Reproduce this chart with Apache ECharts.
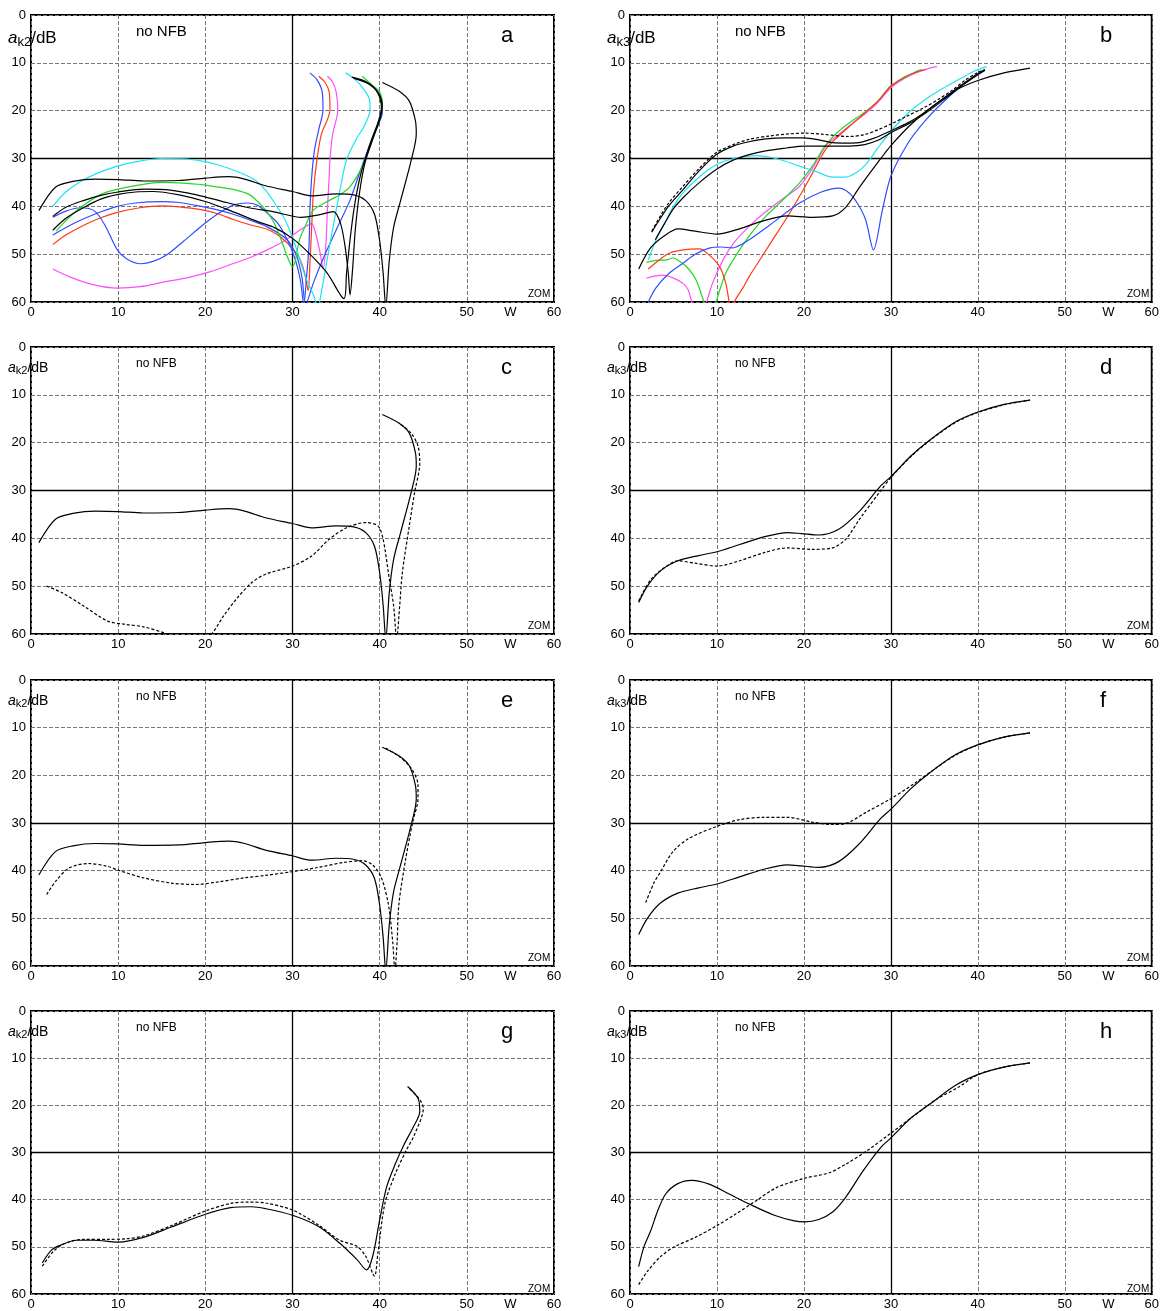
<!DOCTYPE html>
<html><head><meta charset="utf-8">
<script src="https://cdn.jsdelivr.net/npm/echarts@6/dist/echarts.min.js"></script>
<style>html,body{margin:0;padding:0;background:#fff}#c{width:1162px;height:1311px}</style>
</head><body><div id="c"></div>
<script>
// ---- tick labels ----
const xTicks = [0,10,20,30,40,50,55,60];
const xTickText = ['0','10','20','30','40','50','W','60'];
const yTicks = [0,10,20,30,40,50,60];

// ---- k2 curves (x = output power W, y = attenuation dB) ----
const k2Main = [[0.9,40.9],[2.8,36],[4.8,34.8],[7.4,34.3],[10,34.4],[12.9,34.7],[16.9,34.6],[20,34.1],[22.7,33.8],[24.5,34.3],[26.9,35.7],[30,36.9],[32.2,37.8],[35,37.4],[37,37.6],[38.4,38.8],[39.4,41.6],[40,47.2],[40.4,54],[40.7,61],[41.1,51.4],[41.6,44.4],[42.4,38.8],[43.6,30.5],[44.2,24.9],[44.1,22.1],[43.4,18],[42.2,15.9],[40.3,14.1]];
const k2Black2 = [[2.5,42.1],[4,40.2],[6,38.8],[8,37.7],[10,37],[13,36.4],[16,36.6],[19,37.6],[22,39],[25,40.3],[28,41.2],[31,42.3],[33,41.8],[34.7,41.1],[35.5,43.5],[36,48],[36.4,54],[36.6,58.5],[36.9,53],[37.2,45],[37.7,37],[38.3,31],[39.2,26],[40,22],[40.3,19],[39.9,16.5],[38.8,14.5],[37,13.2]];
const k2Black3 = [[2.5,45],[4,42.5],[6,40.3],[8,38.5],[10,37.5],[12,37],[14,36.9],[17,37.6],[20,39],[23,41],[26,43.2],[28,44.5],[30,46.7],[32,50],[34,54],[35.9,59.3],[36.2,54],[36.6,47],[37.1,40],[37.8,33.5],[38.8,27.5],[39.8,22.5],[40.2,19.5],[39.7,16],[38.5,14],[36.8,13]];
const k2BlueA = [[2.5,42.3],[4,41],[5.7,40.3],[7.3,41],[8.5,44],[9.9,49.1],[11,51],[12.6,52],[14,51.5],[15.6,50.1],[17.5,47.3],[19.5,44.2],[21.5,41.5],[23.3,39.7],[24.8,39.3],[26,39.8],[27.1,41.4],[28.3,43.5],[29.4,47],[30.3,51],[30.9,55.4],[31.3,60.5],[31.6,55],[31.9,48],[32,40.8],[32.2,34],[32.5,28.5],[33,24],[33.5,19.8],[33.4,16],[32.8,13.5],[32,12.1]];
const k2BlueB = [[2.5,46],[5,43.5],[7.5,41.5],[9.9,40],[12,39.3],[14.9,39],[17,39.2],[19.5,40],[21.5,40.8],[23.3,41.7],[25,42.8],[27.1,44.3],[29.4,47],[30.5,50.5],[31.1,55],[31.5,60.5],[32.4,56],[33.5,51],[35,45],[36.6,38.7],[37.6,33.5],[38.5,28.9],[39.5,24],[40.3,20.5],[40.2,17.5],[39.3,15],[37.8,13.5]];
const k2Red = [[2.5,48],[4,46],[6,44],[8,42.4],[10,41.2],[12.5,40.3],[14.9,39.9],[17,40.1],[19.5,40.7],[21.5,41.6],[23.3,42.8],[25,43.8],[27.1,44.8],[28.5,46.2],[29.4,47.7],[30.3,49.5],[30.9,51.2],[31.4,54],[31.8,57.6],[32,52],[32.2,44.3],[32.4,37],[32.8,30.3],[33.3,25],[34.3,19.8],[34.2,16],[33.7,14],[33,12.8]];
const k2Pink = [[2.5,53.1],[4.5,54.8],[7,56.3],[9.9,57.1],[12.5,56.8],[15.6,55.7],[18,54.9],[20.5,53.7],[23.3,51.9],[25,50.8],[27.1,49.1],[29,47.3],[30.9,44.9],[31.7,44],[32.2,43.6],[32.7,46],[33.2,50],[33.5,53],[33.8,49],[34,40.8],[34.2,34],[34.3,30.3],[34.6,25],[35.2,19.8],[35,16],[34.6,14],[34,12.8]];
const k2Green = [[2.9,45.2],[4,43],[5.5,40.5],[8,37.5],[10,36.4],[12.5,35.5],[14.9,35],[17,35.1],[19.8,35.5],[21.5,36],[23.3,36.5],[25,37.5],[26,39],[27,41],[27.9,43.5],[28.7,47],[29.4,50.5],[30,52.6],[30.3,51.5],[30.8,47],[31.5,44],[32.4,40.8],[34.3,38.7],[35.5,37.5],[36.6,35.9],[38,31.7],[39,27],[39.7,23.3],[40.3,18.4],[40,16],[39.3,14.9],[38,12.8]];
const k2Cyan = [[2.5,40],[4,37],[6.1,34.4],[8,32.8],[9.9,31.6],[12,30.7],[14.9,30],[17.9,30.1],[19.5,30.5],[21.4,31.3],[23.5,32.6],[25.6,34.4],[27,36.8],[28.2,40],[29.2,43],[30.1,47],[31.5,54.8],[32.4,58.5],[32.9,61],[33.4,57],[34.3,47.8],[35.3,38],[36.2,30.3],[37.3,26],[38.2,23.3],[38.9,19.8],[38.8,17.5],[38.2,15.6],[37.2,13.5],[36.1,12.1]];
const k2cDashed = [[1.8,50],[3.6,51.4],[6,54.1],[8.8,57.3],[10.9,58],[12.9,58.5],[15.3,59.8],[16.5,61],[19,62],[20.7,60],[22.1,56.2],[23.7,52.4],[25.3,49.3],[26.9,47.5],[30,45.8],[32.2,43.7],[34.2,40.2],[36.2,37.8],[38.4,36.7],[39.8,37.4],[40.4,40.2],[41,47.2],[41.6,54.1],[41.95,61],[42.3,54],[42.6,47.2],[43.4,37.4],[44,30.5],[44.6,24.2],[44.4,20.7],[43.6,18],[42.2,15.9]];
const k2eDashed = [[1.8,45],[2.8,42.3],[4.4,39.4],[6.6,38.5],[8.8,39.1],[10,39.9],[12.9,41.5],[16.1,42.6],[18.9,42.9],[21.3,42.4],[24.5,41.5],[26.9,41],[30,40.2],[33,39.3],[35.8,38.3],[38,37.9],[39.2,38.8],[40.2,41.5],[41,47.1],[41.5,55],[41.75,61],[42,55],[42.2,47.1],[43,37.4],[43.8,29.7],[44.4,24.8],[44.4,22],[43.6,18.5],[42.2,16],[40.6,14.2]];
const k2gSolid = [[1.3,53.4],[2.4,50.6],[3.6,49.5],[5.2,48.6],[7.2,48.6],[10,49],[12.9,48],[16.1,45.8],[20,43.1],[22.9,41.7],[25.3,41.5],[26.9,41.9],[30,43.3],[33,45.7],[35.4,49.2],[37.4,52.7],[38.5,54.9],[39.2,52],[40,44.3],[40.8,37.3],[41.8,32.4],[42.8,28.3],[43.8,24.8],[44.6,21.3],[44.4,18.5],[43.2,16]];
const k2gDashed = [[1.3,54.1],[2.6,50.9],[4,49.2],[6,48.4],[8.8,48.4],[10.9,48.3],[12.9,47.7],[16.1,45.5],[20,42.4],[22.9,40.8],[24.9,40.5],[26.9,40.7],[30,42.2],[33,45.4],[35.4,48.6],[37.4,49.9],[38.4,52],[39.4,56.2],[39.8,51.3],[40.6,40.8],[41.8,34.5],[43,29.7],[44,26.2],[45,20.6],[44.6,18.8],[43.4,16.4]];

// ---- k3 curves ----
const k3dSolid = [[1,53.4],[2,50],[3.5,46.8],[5.5,44.7],[7.9,43.6],[10,42.8],[12.6,41.3],[15.4,39.7],[18.1,38.8],[19.7,39],[21.7,39.3],[24,38.1],[26.4,34.3],[28.8,29.1],[30,27.1],[32.3,22.8],[34.3,19.7],[37.4,15.7],[40,13.6],[43,12],[46,11.1]];
const k3dDashed = [[1,53.1],[2.4,48.6],[4,46.1],[5.5,44.7],[7.5,45.2],[10,45.8],[12.6,44.7],[15.4,43],[18.1,42],[20.9,42.3],[23.3,42],[24.8,40.2],[26.4,36],[28.8,30.1],[30,27.3],[32.3,22.9],[34.3,19.8],[37.4,15.8],[40,13.7],[43,12.1],[46,11.1]];
const k3fDashed = [[1.8,46.7],[2.8,42.4],[3.5,40.3],[4.9,36.1],[6.7,33.3],[10,30.7],[12.6,29.3],[15.4,28.8],[18.1,28.8],[20.9,29.8],[23.3,30.3],[24.8,30.1],[27.2,27.7],[30,24.9],[32.7,21.7],[35.1,18.6],[37.4,15.8],[40,13.6],[43,12],[46,11.1]];
const k3hSolid = [[1,54.2],[1.6,50],[2.4,46.5],[3.2,42.3],[4.1,38.8],[5.5,36.6],[7.1,35.9],[9.1,36.7],[11.4,38.8],[13.8,41],[16.6,43.3],[18.9,44.5],[20.1,44.7],[21.7,44.2],[23.3,42.6],[24.8,39.5],[26.8,33.9],[28.8,29],[30,26.9],[32.3,22.7],[34.3,20],[37.4,15.8],[40,13.5],[43,11.9],[46,11]];
const k3hDashed = [[1,58],[2,55.2],[3.5,52.1],[5.1,50],[7.5,48],[10,45.5],[12.2,43],[14.6,40.1],[16.9,37.4],[20,35.5],[22.9,34.3],[24.8,32.5],[27.2,29.7],[30,25.9],[32.3,22.7],[35.1,18.9],[37.8,16.1],[40,13.5],[43,11.9],[46,11]];
const k3bDashed = [[2.5,45.2],[3.5,42],[4.5,39.2],[6.1,35.8],[8,32],[9.9,28.8],[12,27],[13.7,26],[16,25.3],[18,24.9],[20,24.7],[22,24.9],[25.2,25.4],[27,25],[28.5,24],[30,22.8],[32,21],[34,19.2],[35.5,17.6],[37,15.8],[38.5,13.7],[40,12],[40.8,11.4]];
const k3bBlack1 = [[2.5,45.4],[3.5,42.5],[4.5,39.8],[6.1,36.5],[8,32.5],[9.9,29.2],[12,27.3],[13.7,26.5],[15.6,25.9],[18,25.7],[20,25.7],[22,26.2],[23.3,26.7],[25,26.8],[26.3,26.7],[28,25.8],[30,24.2],[32,22.5],[34,20.2],[36,17.5],[38,14.8],[40,12.3],[40.8,11.5]];
const k3bBlack2 = [[2.9,47],[4,43.5],[5,40.5],[6.1,38.2],[8,35],[10,32.2],[11.8,30.4],[13.7,29.2],[15.6,28.4],[18,27.8],[20,27.4],[22.5,27.4],[25.2,27.4],[27,27.1],[28.5,26.2],[30,24.6],[32,22.8],[34,20.5],[36,17.8],[38,15],[40,12.5],[40.8,11.6]];
const k3bCyan = [[2.1,51.2],[3,47],[4,43.5],[5,40],[6.1,37.2],[8,33.8],[9.9,31.3],[12,30],[14.5,29.4],[17,30.1],[19.5,31.6],[21.5,32.8],[23.3,33.9],[24.8,33.9],[26,33],[27.1,31.3],[28.5,27.8],[30,24.3],[32,20.5],[33.9,17.7],[36,15.3],[37.8,13.5],[39.5,11.8],[41,10.8]];
const k3bBlue = [[2.1,60],[3,57],[4.5,54],[6.1,51.9],[7.5,50],[9.2,48.7],[10.5,48.5],[11.8,48.7],[12.8,48],[13.7,47],[16,44],[19.5,39.3],[22,37],[24,36.2],[25.2,37.2],[26.2,39.5],[27.1,42.8],[28,49.1],[29,41],[30,33.7],[32,26.7],[34,22],[35.9,18.4],[38,15],[40,12.3],[40.8,11.4]];
const k3bGreen = [[1.9,51.7],[3,51.3],[4.2,51.2],[5,50.8],[5.7,51.5],[6.7,53],[7.6,55.4],[8.5,60],[9.2,64],[9.9,60],[11,54],[12.6,49.1],[14,45.5],[15.6,42.1],[17.5,38.8],[19.5,35.1],[21,31.5],[22.5,27.2],[24,24.3],[25.2,22.6],[27,20.3],[28.5,18],[30,14.8],[31.5,13.2],[33,11.7],[33.6,11.4]];
const k3bRed = [[2.1,53.1],[3.5,51],[4.5,49.8],[6.1,49.1],[8,48.9],[9,50],[10.3,52.6],[11,56],[11.4,60],[11.7,63],[12,60],[13,57],[13.7,54.7],[15,51],[16.4,47],[18,42.5],[19.5,37.9],[21,33],[22.5,28.1],[24,25.3],[25.2,23.3],[27,20.5],[28.5,18],[30,14.9],[31.5,13],[33,11.9],[34,11.4]];
const k3bPink = [[1.9,55],[2.8,54.6],[3.8,54.4],[5,55],[6.1,56.1],[6.7,57.5],[7.1,60],[7.9,64],[8.8,60],[9.5,56],[10.7,51.2],[12,47.5],[13.7,44.2],[15.5,41.3],[17.5,38.5],[19.5,35.8],[21,32],[22.5,27.4],[24,25],[25.5,22.8],[27,20.7],[28.5,18.3],[30,15.2],[31.5,13.3],[33,12],[34.3,11.2],[35.3,10.8]];

// ---- styling ----
const C = {k:'#000', blue:'#2f4dff', red:'#ff3a14', green:'#22d822', cyan:'#1de3f2', pink:'#ff4cff'};
const FONT = "'Liberation Sans', Arial, Helvetica, sans-serif";
const colLeft = [31, 630], colW = 523;
const rowTop = [15, 347, 680, 1011], rowH = [287, 287, 286, 286];

const S = (data, color, dashed) => ({data, color, dashed: !!dashed});
const panels = [
  {letter:'a', col:0, row:0, sub:'k2', big:true, lines:[
    S(k2Pink,C.pink), S(k2Red,C.red), S(k2BlueB,C.blue), S(k2BlueA,C.blue), S(k2Green,C.green), S(k2Cyan,C.cyan),
    S(k2Black3,C.k), S(k2Black2,C.k), S(k2Main,C.k)]},
  {letter:'b', col:1, row:0, sub:'k3', big:true, lines:[
    S(k3bPink,C.pink), S(k3bGreen,C.green), S(k3bRed,C.red), S(k3bBlue,C.blue), S(k3bCyan,C.cyan),
    S(k3dDashed,C.k), S(k3bBlack2,C.k), S(k3bBlack1,C.k), S(k3bDashed,C.k,true)]},
  {letter:'c', col:0, row:1, sub:'k2', lines:[S(k2Main,C.k), S(k2cDashed,C.k,true)]},
  {letter:'d', col:1, row:1, sub:'k3', lines:[S(k3dSolid,C.k), S(k3dDashed,C.k,true)]},
  {letter:'e', col:0, row:2, sub:'k2', lines:[S(k2Main,C.k), S(k2eDashed,C.k,true)]},
  {letter:'f', col:1, row:2, sub:'k3', lines:[S(k3dSolid,C.k), S(k3fDashed,C.k,true)]},
  {letter:'g', col:0, row:3, sub:'k2', lines:[S(k2gSolid,C.k), S(k2gDashed,C.k,true)]},
  {letter:'h', col:1, row:3, sub:'k3', lines:[S(k3hSolid,C.k), S(k3hDashed,C.k,true)]}
];

const grid = [], xAxis = [], yAxis = [], series = [], graphic = [];
panels.forEach((p, i) => {
  const L = colLeft[p.col], T = rowTop[p.row], H = rowH[p.row];
  grid.push({left:L, top:T, width:colW, height:H, show:true, borderColor:'#000', borderWidth:2, backgroundColor:'transparent'});
  xAxis.push({type:'value', gridIndex:i, min:0, max:60, interval:10,
    axisLine:{show:false}, axisTick:{show:false},
    axisLabel:{customValues:xTicks, formatter:v => xTickText[xTicks.indexOf(v)] ?? '', color:'#000', fontFamily:FONT, fontSize:13, margin:4},
    splitLine:{show:true, lineStyle:{color:'#777', type:[4,2], width:1}}});
  yAxis.push({type:'value', gridIndex:i, min:0, max:60, interval:10, inverse:true,
    axisLine:{show:false}, axisTick:{show:false},
    axisLabel:{color:'#000', fontFamily:FONT, fontSize:13, margin:5},
    splitLine:{show:true, lineStyle:{color:'#777', type:[4,2], width:1}}});
  p.lines.forEach((ln, j) => {
    const s = {type:'line', xAxisIndex:i, yAxisIndex:i, data:ln.data, showSymbol:false, symbol:'none',
      smooth:0.3, clip:true, silent:true,
      lineStyle:{color:ln.color, width:1.2, type: ln.dashed ? [3,2] : 'solid'}, z:3};
    if (j === 0) {
      s.markLine = {silent:true, symbol:'none', label:{show:false}, animation:false,
        lineStyle:{color:'#000', type:'solid', width:1.3}, data:[{xAxis:30},{yAxis:30}], z:2};
    }
    series.push(s);
  });
  const big = !!p.big;
  graphic.push({type:'text', left:L-23, top:T+(big?15:14), z:10,
    style:{text:'{i|a}{s|' + p.sub + '}{n|/dB}', rich:{
      i:{fontFamily:FONT, fontStyle:'italic', fontSize:big?17:14, fill:'#000'},
      s:{fontFamily:FONT, fontSize:big?13:11, fill:'#000', padding:[big?8:6,0,0,0]},
      n:{fontFamily:FONT, fontSize:big?17:14, fill:'#000'}}}});
  graphic.push({type:'text', left:L+105, top:T+(big?9:11), z:10,
    style:{text:'no NFB', fontFamily:FONT, fontSize:big?15:12, fill:'#000'}});
  graphic.push({type:'text', left:L+470, top:T+10, z:10,
    style:{text:p.letter, fontFamily:FONT, fontSize:22, fill:'#000'}});
  graphic.push({type:'text', left:L+497, top:T+H-13, z:10,
    style:{text:'ZOM', fontFamily:FONT, fontSize:10, fill:'#000'}});
});

const chart = echarts.init(document.getElementById('c'), null, {renderer:'canvas'});
chart.setOption({animation:false, backgroundColor:'#fff', grid, xAxis, yAxis, series, graphic});
</script></body></html>
